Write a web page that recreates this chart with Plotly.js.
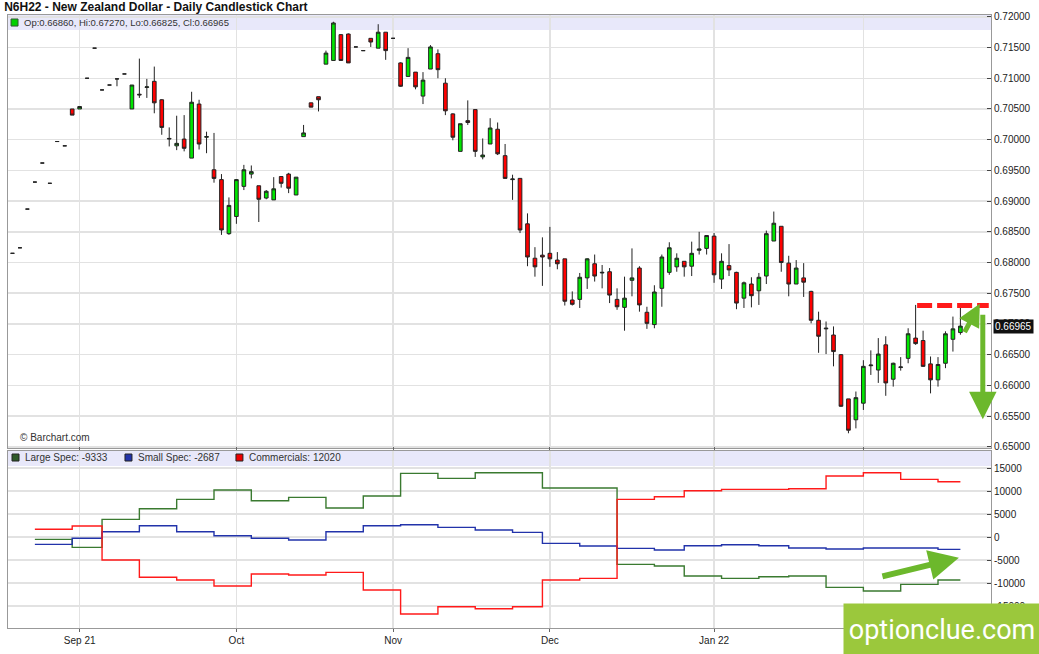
<!DOCTYPE html>
<html>
<head>
<meta charset="utf-8">
<script src="https://cdn.plot.ly/plotly-3.0.1.min.js"></script>
<style>html,body{margin:0;padding:0;background:#fff;}#chart{width:1039px;height:654px;}</style>
</head>
<body>
<div id="chart"></div>
<script>
// ---- Data (daily OHLC, index 0 = Sep 1 2021 trading day) ----
const firstIdx = -9;
const openP = [
0.6815,0.6824,0.6887,0.6931,0.6962,0.6929,0.6997,0.6990,0.7050,0.7050,
0.7100,0.7149,0.7081,0.7089,0.7099,0.7107,0.7050,0.7074,0.7085,0.7095,
0.7065,0.7001,0.6990,0.7001,0.6970,0.7058,0.7004,0.6951,0.6935,0.6847,
0.6875,0.6924,0.6944,0.6925,0.6905,0.6902,0.6940,0.6944,0.6910,0.7005,
0.7060,0.7070,0.7123,0.7129,0.7171,0.7172,0.7151,0.7145,0.7165,0.7149,
0.7175,0.7165,0.7125,0.7103,0.7110,0.7071,0.7115,0.7140,0.7092,0.7042,
0.6981,0.7031,0.7049,0.6972,0.6993,0.7017,0.6974,0.6935,0.6937,0.6863,
0.6807,0.6812,0.6815,0.6804,0.6806,0.6739,0.6740,0.6775,0.6798,0.6783,
0.6785,0.6740,0.6727,0.6771,0.6791,0.6719,0.6699,0.6758,0.6784,0.6793,
0.6802,0.6794,0.6820,0.6823,0.6843,0.6773,0.6795,0.6784,0.6742,0.6765,
0.6754,0.6778,0.6835,0.6859,0.6799,0.6765,0.6775,0.6753,0.6706,0.6692,
0.6682,0.6650,0.6578,0.6544,0.6571,0.6632,0.6625,0.6666,0.6610,0.6629,
0.6644,0.6677,0.6673,0.6635,0.6609,0.6636,0.6675,0.6686];
const highP = [
0.6815,0.6824,0.6887,0.6931,0.6962,0.6929,0.6997,0.6990,0.7050,0.7054,
0.7100,0.7149,0.7081,0.7089,0.7099,0.7107,0.7089,0.7132,0.7099,0.7119,
0.7066,0.7020,0.7039,0.7040,0.7078,0.7065,0.7013,0.7011,0.6944,0.6906,
0.6936,0.6959,0.6958,0.6925,0.6918,0.6939,0.6940,0.6946,0.6939,0.7024,
0.7060,0.7070,0.7145,0.7192,0.7172,0.7173,0.7151,0.7145,0.7165,0.7188,
0.7175,0.7165,0.7126,0.7149,0.7110,0.7110,0.7154,0.7147,0.7100,0.7043,
0.7026,0.7064,0.7049,0.7002,0.7035,0.7028,0.6993,0.6943,0.6937,0.6880,
0.6825,0.6841,0.6858,0.6817,0.6806,0.6753,0.6783,0.6807,0.6813,0.6796,
0.6791,0.6758,0.6777,0.6823,0.6794,0.6728,0.6763,0.6813,0.6833,0.6815,
0.6802,0.6834,0.6850,0.6844,0.6848,0.6815,0.6830,0.6785,0.6769,0.6776,
0.6783,0.6852,0.6883,0.6859,0.6811,0.6804,0.6799,0.6754,0.6720,0.6704,
0.6696,0.6651,0.6578,0.6590,0.6641,0.6657,0.6677,0.6680,0.6637,0.6646,
0.6693,0.6731,0.6689,0.6647,0.6646,0.6688,0.6712,0.6727];
const lowP = [
0.6815,0.6824,0.6887,0.6931,0.6962,0.6929,0.6997,0.6990,0.7040,0.7050,
0.7100,0.7149,0.7081,0.7089,0.7087,0.7107,0.7050,0.7068,0.7068,0.7043,
0.7008,0.6989,0.6983,0.6981,0.6970,0.6984,0.6978,0.6930,0.6845,0.6845,
0.6863,0.6918,0.6937,0.6866,0.6903,0.6902,0.6922,0.6913,0.6910,0.7005,
0.7053,0.7046,0.7123,0.7129,0.7129,0.7125,0.7151,0.7145,0.7151,0.7149,
0.7130,0.7165,0.7086,0.7103,0.7082,0.7058,0.7115,0.7100,0.7040,0.6999,
0.6981,0.7024,0.6972,0.6968,0.6993,0.6975,0.6937,0.6902,0.6848,0.6794,
0.6777,0.6762,0.6793,0.6789,0.6730,0.6730,0.6726,0.6757,0.6769,0.6758,
0.6734,0.6723,0.6689,0.6745,0.6720,0.6692,0.6693,0.6728,0.6780,0.6785,
0.6777,0.6778,0.6813,0.6813,0.6767,0.6757,0.6778,0.6724,0.6726,0.6727,
0.6731,0.6765,0.6835,0.6785,0.6745,0.6765,0.6744,0.6701,0.6653,0.6651,
0.6631,0.6565,0.6522,0.6530,0.6560,0.6617,0.6604,0.6583,0.6598,0.6624,
0.6636,0.6666,0.6630,0.6587,0.6598,0.6628,0.6655,0.66825];
const closeP = [
0.6815,0.6824,0.6887,0.6931,0.6962,0.6929,0.6997,0.6990,0.7040,0.7054,
0.7100,0.7149,0.7081,0.7089,0.7099,0.7107,0.7089,0.7073,0.7086,0.7060,
0.7020,0.7002,0.6994,0.6986,0.7061,0.6993,0.7005,0.6937,0.6853,0.6893,
0.6935,0.6951,0.6948,0.6903,0.6916,0.6920,0.6929,0.6921,0.6939,0.7011,
0.7053,0.7065,0.7141,0.7190,0.7129,0.7125,0.7151,0.7145,0.7159,0.7175,
0.7145,0.7165,0.7087,0.7134,0.7086,0.7097,0.7151,0.7114,0.7047,0.7004,
0.7026,0.7028,0.6981,0.6975,0.7019,0.6977,0.6937,0.6936,0.6853,0.6809,
0.6793,0.6809,0.6806,0.6798,0.6737,0.6732,0.6776,0.6806,0.6778,0.6784,
0.6747,0.6728,0.6742,0.6775,0.6731,0.6701,0.6752,0.6809,0.6824,0.6807,
0.6793,0.6815,0.6822,0.6844,0.6780,0.6802,0.6788,0.6734,0.6767,0.6746,
0.6776,0.6847,0.6864,0.6800,0.6765,0.6791,0.6768,0.6706,0.6680,0.6693,
0.6655,0.6566,0.6527,0.6580,0.6631,0.6633,0.6651,0.6604,0.6636,0.6630,
0.6684,0.6668,0.6631,0.6609,0.6634,0.6684,0.6692,0.66965];

// ---- Weekly COT positions (step starts, in trading-day index) ----
const cotX = [-6,-1,3,8,13,18,23,28,33,38,43,48,53,58,62,67,72,77,81,86,91,95,100,105,110,115,118];
const largeSpec = [-500,-2240,3850,6160,8190,10220,7900,8620,6300,8910,13840,12750,13980,13980,10650,10650,-5940,-6300,-8480,-8990,-8620,-8480,-10940,-11740,-10290,-9333];
const smallSpec = [-1590,-280,1160,2460,1160,290,-280,-650,1160,2460,2680,2100,1520,1010,-1380,-1960,-2460,-2830,-1890,-1670,-1890,-2390,-2610,-2390,-2390,-2687];
const commercials = [1700,2400,-5000,-8760,-9350,-10650,-8040,-8260,-7680,-11520,-16740,-15150,-15580,-15150,-9350,-8990,8190,8770,10070,10360,10360,10500,13260,13980,12540,12020];

// ---- Axis labels ----
const monthIdx = [0,21,42,63,85,105];
const monthLbl = ['Sep 21','Oct','Nov','Dec','Jan 22','Feb'];
const priceTicks = [0.650,0.655,0.660,0.665,0.670,0.675,0.680,0.685,0.690,0.695,0.700,0.705,0.710,0.715,0.720];
const cotTicks = [-15000,-10000,-5000,0,5000,10000,15000];
const cotTickText = ['-15000','-10000','-5000','0','5000','10000','15000'];
const resistance = 0.6730;
const lastClose = closeP[closeP.length-1];

const xIdx = openP.map((_, k) => firstIdx + k);
const withEnd = arr => arr.concat([arr[arr.length-1]]);

const FONT = 'Liberation Sans, Arial, sans-serif';
const GRID = '#e2e2e2';
const ARROW = '#6cb82c';

const traces = [
  {
    type: 'candlestick', x: xIdx, open: openP, high: highP, low: lowP, close: closeP,
    xaxis: 'x', yaxis: 'y', showlegend: false, hoverinfo: 'skip',
    increasing: {line: {color: '#222222', width: 1}, fillcolor: '#00e600'},
    decreasing: {line: {color: '#222222', width: 1}, fillcolor: '#ff0000'},
    whiskerwidth: 0
  },
  {type: 'scatter', mode: 'lines', x: cotX, y: withEnd(largeSpec), xaxis: 'x', yaxis: 'y2',
   line: {shape: 'hv', color: '#3a7a30', width: 1.4}, showlegend: false, hoverinfo: 'skip'},
  {type: 'scatter', mode: 'lines', x: cotX, y: withEnd(smallSpec), xaxis: 'x', yaxis: 'y2',
   line: {shape: 'hv', color: '#2233aa', width: 1.4}, showlegend: false, hoverinfo: 'skip'},
  {type: 'scatter', mode: 'lines', x: cotX, y: withEnd(commercials), xaxis: 'x', yaxis: 'y2',
   line: {shape: 'hv', color: '#ff1a1a', width: 1.4}, showlegend: false, hoverinfo: 'skip'}
];

const upperDom = [0.2936, 1];
const lowerDom = [0, 0.2887];

const layout = {
  width: 1039, height: 654,
  margin: {l: 8, r: 48, t: 15, b: 26},
  paper_bgcolor: '#ffffff', plot_bgcolor: '#ffffff',
  font: {family: FONT, size: 10, color: '#222'},
  showlegend: false,
  title: {
    text: 'N6H22 - New Zealand Dollar - Daily Candlestick Chart',
    x: 0.004, xanchor: 'left', xref: 'container',
    y: 0.989, yanchor: 'middle', yref: 'container',
    font: {family: FONT, size: 12, color: '#111', weight: 'bold'}
  },
  xaxis: {
    domain: [0, 1], anchor: 'y2', range: [-9.6, 122.1],
    tickmode: 'array', tickvals: monthIdx, ticktext: monthLbl,
    ticks: 'outside', ticklen: 3, tickcolor: '#666',
    showgrid: true, gridcolor: GRID, gridwidth: 1.5,
    showline: true, linecolor: '#999', linewidth: 1, mirror: 'all',
    zeroline: false, rangeslider: {visible: false},
    tickfont: {family: FONT, size: 10, color: '#222'}
  },
  yaxis: {
    domain: upperDom, anchor: 'x', side: 'right', range: [0.6498, 0.7203],
    tickmode: 'array', tickvals: priceTicks, tickformat: '.5f',
    ticks: 'inside', ticklen: 4, tickcolor: '#444',
    showgrid: true, gridcolor: GRID, gridwidth: 1.5,
    showline: true, linecolor: '#999', mirror: true, zeroline: false,
    tickfont: {family: FONT, size: 10, color: '#222'}
  },
  yaxis2: {
    domain: lowerDom, anchor: 'x', side: 'right', range: [-19780, 18700],
    tickmode: 'array', tickvals: cotTicks, ticktext: cotTickText,
    ticks: 'inside', ticklen: 4, tickcolor: '#444',
    showgrid: true, gridcolor: GRID, gridwidth: 1.5,
    showline: true, linecolor: '#999', mirror: true, zeroline: false,
    tickfont: {family: FONT, size: 10, color: '#222'}
  },
  shapes: [
    // header strips
    {type: 'rect', xref: 'paper', yref: 'paper', x0: 0, x1: 1, y0: 0.9755, y1: 1, fillcolor: '#e8e8fa', line: {width: 0}, layer: 'below'},
    {type: 'rect', xref: 'paper', yref: 'paper', x0: 0, x1: 1, y0: 0.2643, y1: 0.2887, fillcolor: '#e8e8fa', line: {width: 0}, layer: 'below'},
    // legend icons
    {type: 'rect', xref: 'paper', yref: 'paper', x0: 0.0031, x1: 0.0102, y0: 0.9820, y1: 0.9935, fillcolor: '#00d000', line: {color: '#335533', width: 1}},
    {type: 'rect', xref: 'paper', yref: 'paper', x0: 0.0041, x1: 0.0112, y0: 0.2724, y1: 0.2838, fillcolor: '#2f5a2a', line: {color: '#222', width: 1}},
    {type: 'rect', xref: 'paper', yref: 'paper', x0: 0.1190, x1: 0.1261, y0: 0.2724, y1: 0.2838, fillcolor: '#2233aa', line: {color: '#222', width: 1}},
    {type: 'rect', xref: 'paper', yref: 'paper', x0: 0.2319, x1: 0.2390, y0: 0.2724, y1: 0.2838, fillcolor: '#ee0000', line: {color: '#222', width: 1}},
    // resistance dashes
    {type: 'line', xref: 'x', yref: 'y', x0: 112.2, x1: 121.8, y0: resistance, y1: resistance,
     line: {color: '#ff1a1a', width: 5, dash: '15px,5px'}}
  ],
  annotations: [
    {xref: 'paper', yref: 'paper', x: 0.0143, y: 0.9878, xanchor: 'left', yanchor: 'middle', showarrow: false,
     text: 'Op:0.66860, Hi:0.67270, Lo:0.66825, Cl:0.66965', font: {family: FONT, size: 9.5, color: '#333'}},
    {xref: 'paper', yref: 'paper', x: 0.0153, y: 0.2781, xanchor: 'left', yanchor: 'middle', showarrow: false,
     text: 'Large Spec: ' + largeSpec[largeSpec.length-1], font: {family: FONT, size: 10, color: '#333'}},
    {xref: 'paper', yref: 'paper', x: 0.1300, y: 0.2781, xanchor: 'left', yanchor: 'middle', showarrow: false,
     text: 'Small Spec: ' + smallSpec[smallSpec.length-1], font: {family: FONT, size: 10, color: '#333'}},
    {xref: 'paper', yref: 'paper', x: 0.2430, y: 0.2781, xanchor: 'left', yanchor: 'middle', showarrow: false,
     text: 'Commercials: ' + commercials[commercials.length-1], font: {family: FONT, size: 10, color: '#333'}},
    {xref: 'paper', yref: 'paper', x: 0.0102, y: 0.3110, xanchor: 'left', yanchor: 'middle', showarrow: false,
     text: '© Barchart.com', font: {family: FONT, size: 10, color: '#333'}},
    // last price tag
    {xref: 'paper', yref: 'y', x: 1, y: lastClose, xanchor: 'left', yanchor: 'middle', xshift: 2, showarrow: false,
     text: lastClose.toFixed(5), bgcolor: '#111111', borderpad: 1, font: {family: FONT, size: 10, color: '#ffffff'}},
    // green arrows
    {xref: 'x', yref: 'y', x: 120.6, y: 0.6733, ax: -16, ay: 30, text: '', showarrow: true,
     arrowhead: 2, arrowsize: 0.9, arrowwidth: 5, arrowcolor: ARROW},
    {xref: 'x', yref: 'y', x: 121.0, y: 0.6545, ax: 0, ay: -106, text: '', showarrow: true,
     arrowhead: 2, arrowsize: 1.1, arrowwidth: 5, arrowcolor: ARROW},
    {xref: 'x', yref: 'y2', x: 117.8, y: -4500, ax: -78, ay: 19, text: '', showarrow: true,
     arrowhead: 2, arrowsize: 1.0, arrowwidth: 6, arrowcolor: ARROW},
    // watermark logo
    {xref: 'paper', yref: 'paper', x: 0.8494, y: 0.0408, xanchor: 'left', yanchor: 'top', showarrow: false,
     width: 196, height: 51, bgcolor: '#9bc83c', align: 'center', borderpad: 0,
     text: 'optionclue.com', font: {family: 'Roboto, Liberation Sans, sans-serif', size: 27, color: '#ffffff'}}
  ]
};

Plotly.newPlot('chart', traces, layout, {staticPlot: true, displayModeBar: false});
</script>
</body>
</html>
